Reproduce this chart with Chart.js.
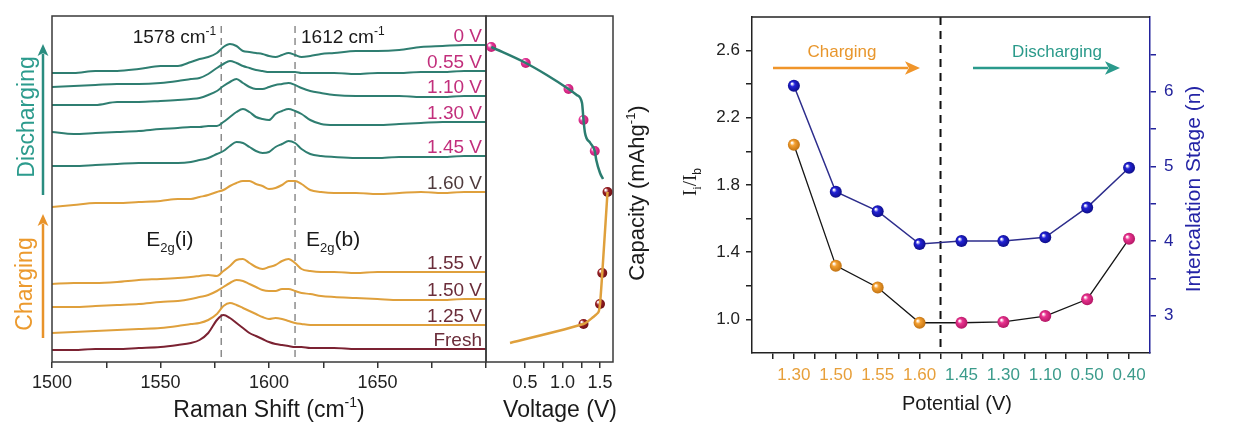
<!DOCTYPE html>
<html>
<head>
<meta charset="utf-8">
<script src="https://cdn.jsdelivr.net/npm/chart.js@4.4.1/dist/chart.umd.min.js"></script>
<style>
  html, body { margin: 0; padding: 0; background: #fff; }
  #wrap { position: relative; width: 1254px; height: 426px; }
  #wrap canvas { position: absolute; left: 0; top: 0; }
</style>
</head>
<body>
<div id="wrap">
  <canvas id="ramanChart" width="1254" height="426"></canvas>
  <canvas id="voltageChart" width="1254" height="426"></canvas>
  <canvas id="ratioChart" width="1254" height="426"></canvas>
</div>
<script>
const FONT = '"Liberation Sans", Arial, Helvetica, sans-serif';

// --- left panel: Raman spectra, stacked (offset intensity, a.u.)
const ramanShift = [1500, 1510, 1520, 1530, 1540, 1550, 1558, 1564, 1568, 1572, 1576, 1579, 1582, 1585, 1588, 1591, 1594, 1597, 1600,
                    1603, 1606, 1609, 1612, 1615, 1619, 1624, 1630, 1640, 1650, 1660, 1670, 1680, 1690, 1700];
const ramanTicks = [1500, 1525, 1550, 1575, 1600, 1625, 1650, 1675, 1700];
const ramanTickLabels = [1500, 1550, 1600, 1650];
const peakPositions = [1578, 1612];
const spectrumLabels = ['0 V', '0.55 V', '1.10 V', '1.30 V', '1.45 V', '1.60 V', '1.55 V', '1.50 V', '1.25 V', 'Fresh'];

const spec0V   = [289, 289, 291, 291, 293, 296, 296, 300, 303, 305, 309, 315, 318, 316, 311, 310, 309, 308, 306,
                  305, 307, 309, 307, 305, 306, 308, 309, 311, 311, 312, 315, 316, 317, 317];
const spec055V = [275, 276, 277, 278, 278, 279, 281, 283, 284, 288, 294, 298, 301, 299, 296, 294, 292, 291, 290,
                  290, 290, 290, 290, 289, 289, 289, 289, 288, 289, 289, 290, 290, 291, 291];
const spec110V = [257, 257, 257, 260, 260, 261, 262, 263, 264, 267, 271, 276, 280, 283, 279, 275, 273, 273, 275,
                  277, 278, 279, 277, 274, 271, 269, 267, 266, 266, 266, 265, 265, 266, 266];
const spec130V = [230, 228, 229, 230, 231, 233, 234, 235, 235, 236, 236, 240, 245, 250, 253, 250, 245, 243, 242,
                  248, 251, 253, 251, 248, 242, 238, 237, 237, 237, 238, 239, 240, 240, 240];
const spec145V = [196, 196, 197, 198, 199, 199, 199, 200, 202, 204, 208, 211, 216, 220, 219, 215, 211, 209, 210,
                  215, 218, 221, 219, 213, 208, 206, 205, 204, 204, 205, 205, 205, 206, 206];
const spec160V = [155, 157, 159, 159, 160, 161, 163, 163, 165, 167, 170, 172, 176, 179, 181, 181, 178, 176, 173,
                  174, 177, 181, 181, 178, 172, 170, 169, 169, 168, 169, 170, 169, 170, 170];
const spec155V = [78, 79, 79, 80, 82, 83, 84, 85, 86, 87, 86, 91, 96, 102, 103, 99, 95, 93, 95,
                  97, 101, 103, 99, 93, 91, 90, 90, 89, 90, 90, 90, 90, 90, 90];
const spec150V = [55, 55, 56, 57, 58, 60, 61, 63, 65, 67, 71, 75, 79, 82, 81, 78, 75, 72, 71,
                  71, 73, 73, 71, 69, 68, 66, 65, 64, 63, 62, 62, 62, 63, 63];
const spec125V = [29, 30, 31, 32, 33, 34, 36, 38, 39, 42, 48, 56, 59, 57, 54, 51, 48, 45, 43,
                  44, 43, 41, 39, 38, 37, 37, 37, 37, 37, 37, 37, 37, 37, 37];
const specFresh = [12, 12, 13, 13, 14, 15, 17, 19, 22, 29, 42, 47, 44, 39, 34, 29, 26, 23, 20,
                   18, 17, 16, 15, 15, 14, 14, 14, 13, 13, 13, 13, 13, 13, 13];

// --- middle panel: voltage profile (capacity in the same relative units)
const dischargeVoltage  = [0.05, 0.51, 0.79, 1.08, 1.19, 1.26, 1.28, 1.30, 1.37, 1.43, 1.45, 1.50, 1.54];
const dischargeCapacity = [315, 299, 287, 273, 267, 259, 242, 229, 219, 211, 202, 189, 183];
const chargeVoltage  = [0.30, 1.28, 1.41, 1.48, 1.50, 1.53, 1.60];
const chargeCapacity = [19, 38, 45, 50, 58, 89, 170];
const dischargeMarkVoltage  = [0.05, 0.51, 1.08, 1.28, 1.43];
const dischargeMarkCapacity = [315, 299, 273, 242, 211];
const chargeMarkVoltage  = [1.28, 1.50, 1.53, 1.60];
const chargeMarkCapacity = [38, 58, 89, 170];
const voltageTicks = [0.5, 0.75, 1.0, 1.25, 1.5];
const voltageTickLabels = [0.5, 1.0, 1.5];

// --- right panel: intensity ratio and stage vs potential
const potentialLabels = ['1.30', '1.50', '1.55', '1.60', '1.45', '1.30', '1.10', '0.50', '0.40'];
const intensityRatio = [2.04, 1.32, 1.19, 0.98, 0.98, 0.985, 1.02, 1.12, 1.48];
const intercalationStage = [6.08, 4.66, 4.40, 3.96, 4.00, 4.00, 4.05, 4.45, 4.98];
const ratioTicks = [1.0, 1.2, 1.4, 1.6, 1.8, 2.0, 2.2, 2.4, 2.6];
const ratioTickLabels = [1.0, 1.4, 1.8, 2.2, 2.6];
const stageTicks = [3, 3.5, 4, 4.5, 5, 5.5, 6, 6.5];
const chargingCount = 4;

Chart.defaults.font.family = FONT;
Chart.defaults.color = '#222';

const TEAL = '#2f7e71';
const ORANGE = '#dfa03c';
const MAROON = '#7b2232';

function richText(ctx, x, y, parts, align) {
  let total = 0;
  parts.forEach(p => {
    ctx.font = (p.style || '') + ' ' + p.size + 'px ' + (p.family || FONT);
    p.w = ctx.measureText(p.text).width;
    total += p.w;
  });
  let cx = align === 'center' ? x - total / 2 : align === 'right' ? x - total : x;
  ctx.textAlign = 'left';
  ctx.textBaseline = 'alphabetic';
  parts.forEach(p => {
    ctx.font = (p.style || '') + ' ' + p.size + 'px ' + (p.family || FONT);
    ctx.fillText(p.text, cx, y + (p.dy || 0));
    cx += p.w;
  });
}

function rotatedText(ctx, cx, cy, parts, color) {
  ctx.save();
  ctx.translate(cx, cy);
  ctx.rotate(-Math.PI / 2);
  ctx.fillStyle = color;
  richText(ctx, 0, parts[0].size * 0.36, parts, 'center');
  ctx.restore();
}

function arrow(ctx, x1, y1, x2, y2, color, width, head) {
  const ang = Math.atan2(y2 - y1, x2 - x1);
  ctx.save();
  ctx.strokeStyle = color;
  ctx.fillStyle = color;
  ctx.lineWidth = width;
  ctx.beginPath();
  ctx.moveTo(x1, y1);
  ctx.lineTo(x2 - Math.cos(ang) * head * 0.8, y2 - Math.sin(ang) * head * 0.8);
  ctx.stroke();
  ctx.translate(x2, y2);
  ctx.rotate(ang);
  ctx.beginPath();
  ctx.moveTo(0, 0);
  ctx.lineTo(-head, -head * 0.45);
  ctx.lineTo(-head * 0.75, 0);
  ctx.lineTo(-head, head * 0.45);
  ctx.closePath();
  ctx.fill();
  ctx.restore();
}

// shaded ball markers
function ball(colorFor, darkFor) {
  return (c) => {
    const base = colorFor(c.dataIndex);
    const chart = c.chart;
    const ds = chart.data.datasets[c.datasetIndex];
    const xs = chart.scales.x;
    const ys = chart.scales[ds.yAxisID || 'y'];
    if (!xs || !ys || !c.parsed) return base;
    const px = xs.getPixelForValue(c.parsed.x);
    const py = ys.getPixelForValue(c.parsed.y);
    if (!isFinite(px) || !isFinite(py)) return base;
    const g = chart.ctx.createRadialGradient(px - 2, py - 2, 0.5, px, py, 7);
    g.addColorStop(0, '#ffffff');
    g.addColorStop(0.3, base);
    g.addColorStop(1, darkFor(c.dataIndex));
    return g;
  };
}

// ================= left: Raman spectra =================
const spectra = [spec0V, spec055V, spec110V, spec130V, spec145V, spec160V, spec155V, spec150V, spec125V, specFresh];
const lineColor = i => (i < 5 ? TEAL : i < 9 ? ORANGE : MAROON);
const labelColor = i => (i < 5 ? '#c22f7c' : i === 5 ? '#4f3b3d' : '#6b2d3a');

const ramanDecor = {
  id: 'ramanDecor',
  beforeDatasetsDraw(chart) {
    const { ctx, chartArea: a, scales: { x } } = chart;
    ctx.save();
    ctx.strokeStyle = '#8c8c8c';
    ctx.lineWidth = 1.5;
    ctx.setLineDash([7, 5]);
    peakPositions.forEach(p => {
      const px = x.getPixelForValue(p);
      ctx.beginPath();
      ctx.moveTo(px, a.top + 10);
      ctx.lineTo(px, a.bottom);
      ctx.stroke();
    });
    ctx.restore();
  },
  afterDraw(chart) {
    const { ctx, chartArea: a, scales: { x, y } } = chart;
    ctx.save();
    ctx.strokeStyle = '#3a3a3a';
    ctx.lineWidth = 1.5;
    ctx.strokeRect(a.left, a.top, a.right - a.left, a.bottom - a.top);

    // curve labels at the right end
    spectra.forEach((s, i) => {
      ctx.fillStyle = labelColor(i);
      richText(ctx, a.right - 4, y.getPixelForValue(s[s.length - 1]) - 3,
        [{ text: spectrumLabels[i], size: 19 }], 'right');
    });

    // peak position labels
    ctx.fillStyle = '#1a1a1a';
    const p1 = x.getPixelForValue(peakPositions[0]);
    const p2 = x.getPixelForValue(peakPositions[1]);
    richText(ctx, p1 - 5, a.top + 27, [{ text: peakPositions[0] + ' cm', size: 19 }, { text: '-1', size: 12, dy: -8 }], 'right');
    richText(ctx, p2 + 6, a.top + 27, [{ text: peakPositions[1] + ' cm', size: 19 }, { text: '-1', size: 12, dy: -8 }], 'left');
    richText(ctx, p1 - 75, 246, [{ text: 'E', size: 21 }, { text: '2g', size: 13, dy: 6 }, { text: '(i)', size: 21 }], 'left');
    richText(ctx, p2 + 11, 246, [{ text: 'E', size: 21 }, { text: '2g', size: 13, dy: 6 }, { text: '(b)', size: 21 }], 'left');

    // x title
    richText(ctx, (a.left + a.right) / 2, 417,
      [{ text: 'Raman Shift (cm', size: 23 }, { text: '-1', size: 14, dy: -10 }, { text: ')', size: 23 }], 'center');

    // process arrows on the left
    arrow(ctx, 43, 195, 43, 44, '#2a8d80', 2.5, 12);
    rotatedText(ctx, 26, 117, [{ text: 'Discharging', size: 23 }], '#2c9b8d');
    arrow(ctx, 43, 338, 43, 214, '#e8932a', 2.5, 12);
    rotatedText(ctx, 24, 284, [{ text: 'Charging', size: 23 }], '#ec9a2e');
    ctx.restore();
  }
};

new Chart(document.getElementById('ramanChart'), {
  type: 'line',
  data: {
    datasets: spectra.map((s, i) => ({
      label: spectrumLabels[i],
      data: ramanShift.map((r, k) => ({ x: r, y: s[k] })),
      borderColor: lineColor(i),
      borderWidth: 2,
      pointRadius: 0,
      cubicInterpolationMode: 'monotone'
    }))
  },
  options: {
    responsive: false,
    animation: false,
    layout: { padding: { left: 52, top: 16, right: 1254 - 486, bottom: 0 } },
    plugins: { legend: { display: false }, tooltip: { enabled: false } },
    scales: {
      x: {
        type: 'linear', min: 1500, max: 1700,
        afterBuildTicks: s => { s.ticks = ramanTicks.map(v => ({ value: v })); },
        afterFit: s => { s.height = 64; s.paddingLeft = 0; s.paddingRight = 0; },
        ticks: {
          autoSkip: false, maxRotation: 0, padding: 4,
          font: { size: 18 }, color: '#222',
          callback: v => (ramanTickLabels.includes(v) ? String(v) : '')
        },
        grid: { drawOnChartArea: false, tickLength: 6, color: '#333', lineWidth: 1.5 },
        border: { display: false }
      },
      y: { display: false, min: 0, max: 346 }
    }
  },
  plugins: [ramanDecor]
});

// ================= middle: voltage profile =================
const voltageDecor = {
  id: 'voltageDecor',
  afterDraw(chart) {
    const { ctx, chartArea: a } = chart;
    ctx.save();
    ctx.strokeStyle = '#3a3a3a';
    ctx.lineWidth = 1.5;
    ctx.strokeRect(a.left, a.top, a.right - a.left, a.bottom - a.top);
    ctx.fillStyle = '#1a1a1a';
    richText(ctx, 560, 417, [{ text: 'Voltage (V)', size: 23 }], 'center');
    rotatedText(ctx, 636, 193,
      [{ text: 'Capacity (mAhg', size: 22 }, { text: '-1', size: 13, dy: -9 }, { text: ')', size: 22 }], '#1a1a1a');
    ctx.restore();
  }
};

new Chart(document.getElementById('voltageChart'), {
  type: 'line',
  data: {
    datasets: [
      {
        data: dischargeVoltage.map((v, k) => ({ x: v, y: dischargeCapacity[k] })),
        borderColor: '#2b7d70', borderWidth: 2.5, pointRadius: 0, cubicInterpolationMode: 'monotone'
      },
      {
        data: chargeVoltage.map((v, k) => ({ x: v, y: chargeCapacity[k] })),
        borderColor: ORANGE, borderWidth: 2.5, pointRadius: 0, tension: 0.25
      },
      {
        data: dischargeMarkVoltage.map((v, k) => ({ x: v, y: dischargeMarkCapacity[k] })),
        showLine: false, pointRadius: 5, pointBorderWidth: 0,
        pointBackgroundColor: ball(() => '#e8359a', () => '#b0125e')
      },
      {
        data: chargeMarkVoltage.map((v, k) => ({ x: v, y: chargeMarkCapacity[k] })),
        showLine: false, pointRadius: 5, pointBorderWidth: 0,
        pointBackgroundColor: ball(() => '#9a1f24', () => '#5a0c10')
      }
    ]
  },
  options: {
    responsive: false,
    animation: false,
    layout: { padding: { left: 486, top: 16, right: 1254 - 613, bottom: 0 } },
    plugins: { legend: { display: false }, tooltip: { enabled: false } },
    scales: {
      x: {
        type: 'linear', min: -0.02, max: 1.673,
        afterBuildTicks: s => { s.ticks = voltageTicks.map(v => ({ value: v })); },
        afterFit: s => { s.height = 64; s.paddingLeft = 0; s.paddingRight = 0; },
        ticks: {
          autoSkip: false, maxRotation: 0, padding: 4,
          font: { size: 18 }, color: '#222',
          callback: v => (voltageTickLabels.includes(v) ? v.toFixed(1) : '')
        },
        grid: { drawOnChartArea: false, tickLength: 6, color: '#333', lineWidth: 1.5 },
        border: { display: false }
      },
      y: { display: false, min: 0, max: 346 }
    }
  },
  plugins: [voltageDecor]
});

// ================= right: I_i/I_b and stage =================
const ratioDecor = {
  id: 'ratioDecor',
  beforeDatasetsDraw(chart) {
    const { ctx, chartArea: a, scales: { x } } = chart;
    const xd = x.getPixelForValue(chargingCount + 0.5);
    ctx.save();
    ctx.strokeStyle = '#111';
    ctx.lineWidth = 2;
    ctx.setLineDash([8, 6]);
    ctx.beginPath();
    ctx.moveTo(xd, a.top);
    ctx.lineTo(xd, a.bottom);
    ctx.stroke();
    ctx.restore();
  },
  afterDraw(chart) {
    const { ctx, chartArea: a } = chart;
    ctx.save();
    ctx.strokeStyle = '#222';
    ctx.lineWidth = 1.5;
    ctx.beginPath();
    ctx.moveTo(a.left, a.top);
    ctx.lineTo(a.right, a.top);
    ctx.stroke();

    ctx.fillStyle = '#e8962c';
    richText(ctx, 842, 57, [{ text: 'Charging', size: 17 }], 'center');
    arrow(ctx, 773, 68, 920, 68, '#f0952a', 2.5, 15);
    ctx.fillStyle = '#2a9a8a';
    richText(ctx, 1057, 57, [{ text: 'Discharging', size: 17 }], 'center');
    arrow(ctx, 973, 68, 1120, 68, '#2a9a8c', 2.5, 15);

    ctx.fillStyle = '#1a1a1a';
    richText(ctx, 957, 410, [{ text: 'Potential (V)', size: 20 }], 'center');
    rotatedText(ctx, 689, 182, [
      { text: 'I', size: 19, family: '"Liberation Serif", serif' },
      { text: 'i', size: 12, dy: 5, family: '"Liberation Serif", serif' },
      { text: '/I', size: 19, family: '"Liberation Serif", serif' },
      { text: 'b', size: 12, dy: 5 }
    ], '#1a1a1a');
    rotatedText(ctx, 1192, 189, [{ text: 'Intercalation Stage (n)', size: 21 }], '#2424a6');
    ctx.restore();
  }
};

const positions = potentialLabels.map((_, i) => i + 1);

new Chart(document.getElementById('ratioChart'), {
  type: 'line',
  data: {
    datasets: [
      {
        label: 'I_i/I_b',
        data: positions.map((p, k) => ({ x: p, y: intensityRatio[k] })),
        yAxisID: 'y',
        borderColor: '#151515', borderWidth: 1.3, tension: 0,
        pointRadius: 6, pointBorderWidth: 0,
        pointBackgroundColor: ball(i => (i < chargingCount ? '#f4a031' : '#ea3490'),
                                   i => (i < chargingCount ? '#b86a0c' : '#a8115c'))
      },
      {
        label: 'Intercalation stage',
        data: positions.map((p, k) => ({ x: p, y: intercalationStage[k] })),
        yAxisID: 'y1',
        borderColor: '#2d2d8c', borderWidth: 1.5, tension: 0,
        pointRadius: 6, pointBorderWidth: 0,
        pointBackgroundColor: ball(() => '#2222d6', () => '#0a0a7a')
      }
    ]
  },
  options: {
    responsive: false,
    animation: false,
    layout: { padding: { left: 692, top: 17, right: 44, bottom: 0 } },
    plugins: { legend: { display: false }, tooltip: { enabled: false } },
    scales: {
      x: {
        type: 'linear', min: 0, max: 9.5,
        afterBuildTicks: s => {
          const t = [];
          for (let v = 0.5; v <= 9; v += 0.5) t.push({ value: v });
          s.ticks = t;
        },
        afterFit: s => { s.height = 73; s.paddingLeft = 0; s.paddingRight = 0; },
        ticks: {
          autoSkip: false, maxRotation: 0, padding: 6,
          font: { size: 17 },
          color: c => (c.tick && c.tick.value <= chargingCount ? '#e79f3a' : '#3b9b8b'),
          callback: v => (Number.isInteger(v) && v >= 1 ? potentialLabels[v - 1] : '')
        },
        grid: { drawOnChartArea: false, tickLength: 6, color: '#222', lineWidth: 1.5 },
        border: { display: true, color: '#222', width: 1.5 }
      },
      y: {
        position: 'left', min: 0.8, max: 2.8,
        afterBuildTicks: s => { s.ticks = ratioTicks.map(v => ({ value: v })); },
        afterFit: s => { s.width = 60; s.paddingTop = 0; s.paddingBottom = 0; },
        ticks: {
          padding: 6, font: { size: 17 }, color: '#222',
          callback: v => (ratioTickLabels.some(r => Math.abs(r - v) < 1e-6) ? v.toFixed(1) : '')
        },
        grid: { drawOnChartArea: false, tickLength: 6, color: '#222', lineWidth: 1.5 },
        border: { display: true, color: '#222', width: 1.5 }
      },
      y1: {
        position: 'right', min: 2.5, max: 7.0,
        afterBuildTicks: s => { s.ticks = stageTicks.map(v => ({ value: v })); },
        afterFit: s => { s.width = 60; s.paddingTop = 0; s.paddingBottom = 0; },
        ticks: {
          padding: 8, font: { size: 17 }, color: '#23239c',
          callback: v => (Number.isInteger(v) ? String(v) : '')
        },
        grid: { drawOnChartArea: false, tickLength: 6, color: '#23239c', lineWidth: 1.5 },
        border: { display: true, color: '#23239c', width: 1.5 }
      }
    }
  },
  plugins: [ratioDecor]
});
</script>
</body>
</html>
